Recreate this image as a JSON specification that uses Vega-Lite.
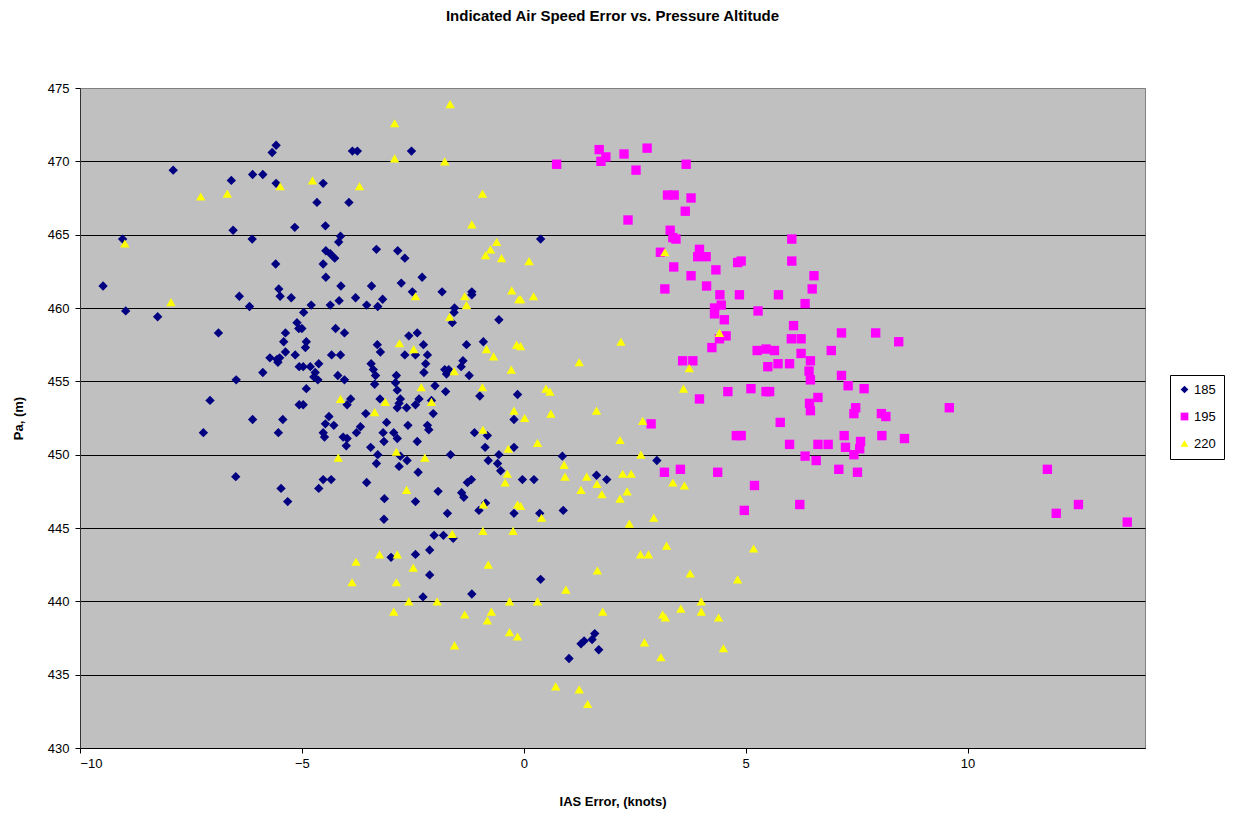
{
  "$schema": "https://vega.github.io/schema/vega-lite/v6.json",
  "width": 1065,
  "height": 660,
  "autosize": "none",
  "padding": {"left": 80, "top": 88, "right": 91, "bottom": 66},
  "background": "#FFFFFF",
  "title": {
    "text": "Indicated Air Speed Error vs. Pressure Altitude",
    "anchor": "middle",
    "frame": "group",
    "offset": 58,
    "font": "Liberation Sans",
    "fontSize": 15,
    "fontWeight": "bold",
    "color": "#000000"
  },
  "config": {
    "font": "Liberation Sans",
    "view": {"fill": "#C0C0C0", "stroke": "#808080", "strokeWidth": 1}
  },
  "data": {
    "values": [
      {"s":"185","x":-5.58,"y":471.1},{"s":"185","x":-5.67,"y":470.6},{"s":"185","x":-7.9,"y":469.4},{"s":"185","x":-6.59,"y":468.7},
      {"s":"185","x":-6.11,"y":469.1},{"s":"185","x":-5.88,"y":469.1},{"s":"185","x":-5.58,"y":468.5},{"s":"185","x":-6.55,"y":465.3},
      {"s":"185","x":-5.16,"y":465.5},{"s":"185","x":-9.04,"y":464.7},{"s":"185","x":-6.12,"y":464.7},{"s":"185","x":-5.59,"y":463.0},
      {"s":"185","x":-9.48,"y":461.5},{"s":"185","x":-6.41,"y":460.8},{"s":"185","x":-5.52,"y":461.3},{"s":"185","x":-5.49,"y":460.8},
      {"s":"185","x":-5.24,"y":460.7},{"s":"185","x":-8.97,"y":459.8},{"s":"185","x":-6.18,"y":460.1},{"s":"185","x":-8.25,"y":459.4},
      {"s":"185","x":-6.88,"y":458.3},{"s":"185","x":-5.11,"y":459.0},{"s":"185","x":-5.07,"y":458.6},{"s":"185","x":-5.37,"y":458.3},
      {"s":"185","x":-5.41,"y":457.7},{"s":"185","x":-5.37,"y":457.0},{"s":"185","x":-5.15,"y":456.8},{"s":"185","x":-5.72,"y":456.6},
      {"s":"185","x":-5.56,"y":456.5},{"s":"185","x":-5.5,"y":456.6},{"s":"185","x":-5.54,"y":456.3},{"s":"185","x":-5.88,"y":455.6},
      {"s":"185","x":-6.48,"y":455.1},{"s":"185","x":-5.06,"y":456.0},{"s":"185","x":-7.07,"y":453.7},{"s":"185","x":-6.11,"y":452.4},
      {"s":"185","x":-5.43,"y":452.4},{"s":"185","x":-7.22,"y":451.5},{"s":"185","x":-5.53,"y":451.5},{"s":"185","x":-5.06,"y":453.4},
      {"s":"185","x":-6.49,"y":448.5},{"s":"185","x":-5.47,"y":447.7},{"s":"185","x":-5.32,"y":446.8},
      {"s":"185","x":-3.86,"y":470.7},{"s":"185","x":-3.75,"y":470.7},{"s":"185","x":-2.53,"y":470.7},{"s":"185","x":-4.52,"y":468.5},
      {"s":"185","x":-4.66,"y":467.2},{"s":"185","x":-3.94,"y":467.2},{"s":"185","x":-4.47,"y":465.6},{"s":"185","x":-4.13,"y":464.9},
      {"s":"185","x":-4.17,"y":464.5},{"s":"185","x":-4.46,"y":463.9},{"s":"185","x":-4.36,"y":463.7},{"s":"185","x":-4.26,"y":463.4},
      {"s":"185","x":-4.52,"y":463.0},{"s":"185","x":-3.32,"y":464.0},{"s":"185","x":-2.84,"y":463.9},{"s":"185","x":-2.68,"y":463.4},
      {"s":"185","x":-2.29,"y":462.1},{"s":"185","x":-4.46,"y":462.1},{"s":"185","x":-4.12,"y":461.5},{"s":"185","x":-3.43,"y":461.5},
      {"s":"185","x":-2.76,"y":461.7},{"s":"185","x":-2.51,"y":461.1},{"s":"185","x":-1.84,"y":461.1},{"s":"185","x":-1.17,"y":461.1},
      {"s":"185","x":-1.17,"y":460.9},{"s":"185","x":-4.79,"y":460.2},{"s":"185","x":-4.36,"y":460.2},{"s":"185","x":-4.16,"y":460.5},
      {"s":"185","x":-3.79,"y":460.7},{"s":"185","x":-3.54,"y":460.2},{"s":"185","x":-3.29,"y":460.1},{"s":"185","x":-3.18,"y":460.6},
      {"s":"185","x":-1.56,"y":460.0},
      {"s":"185","x":-4.96,"y":459.7},{"s":"185","x":-5.0,"y":458.6},{"s":"185","x":-4.9,"y":457.7},{"s":"185","x":-4.92,"y":457.3},
      {"s":"185","x":-4.97,"y":456.0},{"s":"185","x":-4.81,"y":456.0},{"s":"185","x":-4.62,"y":456.2},{"s":"185","x":-4.7,"y":455.6},
      {"s":"185","x":-4.73,"y":455.3},{"s":"185","x":-4.64,"y":455.1},{"s":"185","x":-4.24,"y":458.6},{"s":"185","x":-4.04,"y":458.3},
      {"s":"185","x":-4.33,"y":456.8},{"s":"185","x":-4.13,"y":456.8},{"s":"185","x":-4.19,"y":455.4},{"s":"185","x":-4.04,"y":455.1},
      {"s":"185","x":-4.9,"y":454.5},{"s":"185","x":-4.97,"y":453.4},{"s":"185","x":-3.9,"y":453.8},{"s":"185","x":-3.98,"y":453.4},
      {"s":"185","x":-4.39,"y":452.6},{"s":"185","x":-4.47,"y":452.1},{"s":"185","x":-4.28,"y":452.0},{"s":"185","x":-4.52,"y":451.5},
      {"s":"185","x":-4.49,"y":451.2},{"s":"185","x":-4.07,"y":451.2},{"s":"185","x":-3.98,"y":451.1},{"s":"185","x":-4.0,"y":450.6},
      {"s":"185","x":-3.77,"y":451.5},{"s":"185","x":-3.68,"y":451.9},{"s":"185","x":-3.56,"y":452.8},{"s":"185","x":-3.45,"y":450.5},
      {"s":"185","x":-3.29,"y":450.0},{"s":"185","x":-3.32,"y":449.4},{"s":"185","x":-4.52,"y":448.3},{"s":"185","x":-4.34,"y":448.3},
      {"s":"185","x":-4.62,"y":447.7},{"s":"185","x":-3.54,"y":448.1},{"s":"185","x":-3.3,"y":457.5},{"s":"185","x":-3.23,"y":457.0},
      {"s":"185","x":-3.44,"y":456.2},{"s":"185","x":-3.39,"y":455.8},{"s":"185","x":-3.34,"y":455.4},{"s":"185","x":-3.24,"y":453.8},
      {"s":"185","x":-3.36,"y":454.8},{"s":"185","x":-3.09,"y":452.2},{"s":"185","x":-3.17,"y":451.5},{"s":"185","x":-3.15,"y":450.9},
      {"s":"185","x":-2.93,"y":451.5},{"s":"185","x":-2.85,"y":451.1},{"s":"185","x":-2.87,"y":455.4},{"s":"185","x":-2.89,"y":454.9},
      {"s":"185","x":-2.85,"y":454.4},{"s":"185","x":-2.78,"y":453.8},{"s":"185","x":-2.85,"y":453.2},{"s":"185","x":-2.64,"y":453.2},
      {"s":"185","x":-2.81,"y":453.5},{"s":"185","x":-2.59,"y":458.1},{"s":"185","x":-2.4,"y":458.3},{"s":"185","x":-2.68,"y":456.8},
      {"s":"185","x":-2.44,"y":456.8},{"s":"185","x":-2.26,"y":457.5},{"s":"185","x":-2.17,"y":456.8},{"s":"185","x":-2.21,"y":456.2},
      {"s":"185","x":-2.25,"y":455.6},{"s":"185","x":-2.0,"y":454.7},{"s":"185","x":-2.36,"y":453.8},{"s":"185","x":-2.44,"y":453.4},
      {"s":"185","x":-2.08,"y":453.7},{"s":"185","x":-2.61,"y":452.0},{"s":"185","x":-2.04,"y":452.8},{"s":"185","x":-2.17,"y":452.0},
      {"s":"185","x":-2.14,"y":451.7},{"s":"185","x":-2.4,"y":450.9},{"s":"185","x":-2.78,"y":449.9},{"s":"185","x":-2.63,"y":449.6},
      {"s":"185","x":-2.81,"y":449.2},{"s":"185","x":-2.38,"y":448.8},{"s":"185","x":-3.14,"y":447.0},{"s":"185","x":-3.15,"y":445.6},
      {"s":"185","x":-2.44,"y":446.8},{"s":"185","x":-1.93,"y":447.5},{"s":"185","x":-1.72,"y":446.0},{"s":"185","x":-1.65,"y":450.0},
      {"s":"185","x":-1.76,"y":454.3},{"s":"185","x":-1.78,"y":455.8},{"s":"185","x":-1.74,"y":455.5},{"s":"185","x":-1.69,"y":455.8},
      {"s":"185","x":-1.37,"y":456.4},{"s":"185","x":-1.41,"y":456.0},{"s":"185","x":-1.23,"y":455.4},{"s":"185","x":-1.29,"y":457.5},
      {"s":"185","x":-1.57,"y":459.7},{"s":"185","x":-1.61,"y":459.0},{"s":"185","x":-0.91,"y":457.7},{"s":"185","x":-0.56,"y":459.2},
      {"s":"185","x":-0.99,"y":454.0},{"s":"185","x":-1.11,"y":451.5},{"s":"185","x":-0.82,"y":451.3},{"s":"185","x":-0.87,"y":450.5},
      {"s":"185","x":-0.8,"y":449.6},{"s":"185","x":-0.56,"y":450.0},{"s":"185","x":-0.59,"y":449.4},{"s":"185","x":-0.52,"y":448.9},
      {"s":"185","x":-0.22,"y":452.4},{"s":"185","x":-0.22,"y":450.5},{"s":"185","x":-0.14,"y":454.1},{"s":"185","x":-1.27,"y":448.1},
      {"s":"185","x":-1.18,"y":448.3},{"s":"185","x":-1.4,"y":447.4},{"s":"185","x":-1.35,"y":447.1},{"s":"185","x":-1.01,"y":446.2},
      {"s":"185","x":-0.22,"y":446.0},{"s":"185","x":-0.86,"y":446.7},
      {"s":"185","x":-2.02,"y":444.5},{"s":"185","x":-1.81,"y":444.5},{"s":"185","x":-1.59,"y":444.3},{"s":"185","x":-2.99,"y":443.0},
      {"s":"185","x":-2.44,"y":443.2},{"s":"185","x":-2.12,"y":443.5},{"s":"185","x":-2.12,"y":441.8},{"s":"185","x":-2.27,"y":440.3},
      {"s":"185","x":-1.17,"y":440.5},
      {"s":"185","x":0.87,"y":449.9},{"s":"185","x":-0.03,"y":448.3},{"s":"185","x":0.23,"y":448.3},{"s":"185","x":1.64,"y":448.6},
      {"s":"185","x":1.87,"y":448.3},{"s":"185","x":3.0,"y":449.6},{"s":"185","x":0.36,"y":446.0},{"s":"185","x":0.89,"y":446.2},
      {"s":"185","x":0.38,"y":464.7},{"s":"185","x":0.38,"y":441.5},{"s":"185","x":1.6,"y":437.8},{"s":"185","x":1.36,"y":437.3},
      {"s":"185","x":1.29,"y":437.1},{"s":"185","x":1.54,"y":437.4},{"s":"185","x":1.69,"y":436.7},{"s":"185","x":1.02,"y":436.1},

      {"s":"195","x":0.74,"y":469.8},{"s":"195","x":1.7,"y":470.8},{"s":"195","x":1.85,"y":470.3},{"s":"195","x":1.74,"y":470.0},
      {"s":"195","x":2.26,"y":470.5},{"s":"195","x":2.53,"y":469.4},{"s":"195","x":2.78,"y":470.9},{"s":"195","x":3.66,"y":469.8},
      {"s":"195","x":3.24,"y":467.7},{"s":"195","x":3.39,"y":467.7},{"s":"195","x":3.77,"y":467.5},{"s":"195","x":3.64,"y":466.6},
      {"s":"195","x":2.35,"y":466.0},{"s":"195","x":3.3,"y":465.3},{"s":"195","x":3.36,"y":464.8},{"s":"195","x":3.43,"y":464.7},
      {"s":"195","x":3.08,"y":463.8},{"s":"195","x":3.96,"y":464.0},{"s":"195","x":3.92,"y":463.5},{"s":"195","x":4.11,"y":463.5},
      {"s":"195","x":3.38,"y":462.8},{"s":"195","x":4.33,"y":462.6},{"s":"195","x":4.82,"y":463.1},{"s":"195","x":3.77,"y":462.2},
      {"s":"195","x":4.12,"y":461.5},{"s":"195","x":3.18,"y":461.3},{"s":"195","x":4.42,"y":460.9},{"s":"195","x":4.45,"y":460.2},
      {"s":"195","x":4.3,"y":460.0},{"s":"195","x":4.86,"y":460.9},
      {"s":"195","x":6.04,"y":464.7},{"s":"195","x":6.04,"y":463.2},{"s":"195","x":4.9,"y":463.2},{"s":"195","x":6.54,"y":462.2},
      {"s":"195","x":6.5,"y":461.3},{"s":"195","x":5.74,"y":460.9},{"s":"195","x":6.34,"y":460.3},{"s":"195","x":5.28,"y":459.8},
      {"s":"195","x":6.08,"y":458.8},{"s":"195","x":7.16,"y":458.3},{"s":"195","x":7.93,"y":458.3},{"s":"195","x":8.45,"y":457.7},
      {"s":"195","x":6.03,"y":457.9},{"s":"195","x":6.25,"y":457.9},{"s":"195","x":5.26,"y":457.1},{"s":"195","x":5.46,"y":457.2},
      {"s":"195","x":5.65,"y":457.1},{"s":"195","x":6.25,"y":456.9},{"s":"195","x":6.46,"y":456.4},{"s":"195","x":6.93,"y":457.1},
      {"s":"195","x":5.5,"y":456.0},{"s":"195","x":5.73,"y":456.2},{"s":"195","x":5.99,"y":456.2},{"s":"195","x":6.43,"y":455.7},
      {"s":"195","x":6.46,"y":455.1},{"s":"195","x":7.16,"y":455.4},{"s":"195","x":7.31,"y":454.7},{"s":"195","x":7.67,"y":454.5},
      {"s":"195","x":5.12,"y":454.5},{"s":"195","x":5.46,"y":454.3},{"s":"195","x":5.54,"y":454.3},{"s":"195","x":6.63,"y":453.9},
      {"s":"195","x":6.44,"y":453.5},{"s":"195","x":6.46,"y":453.0},{"s":"195","x":7.48,"y":453.2},{"s":"195","x":7.44,"y":452.8},
      {"s":"195","x":8.06,"y":452.8},{"s":"195","x":8.16,"y":452.6},{"s":"195","x":9.59,"y":453.2},{"s":"195","x":5.78,"y":452.2},
      {"s":"195","x":4.9,"y":451.3},{"s":"195","x":5.99,"y":450.7},{"s":"195","x":6.63,"y":450.7},{"s":"195","x":6.86,"y":450.7},
      {"s":"195","x":7.22,"y":451.3},{"s":"195","x":8.07,"y":451.3},{"s":"195","x":8.58,"y":451.1},{"s":"195","x":7.25,"y":450.5},
      {"s":"195","x":7.59,"y":450.9},{"s":"195","x":7.57,"y":450.4},{"s":"195","x":7.44,"y":450.0},{"s":"195","x":6.34,"y":449.9},
      {"s":"195","x":6.59,"y":449.6},{"s":"195","x":7.1,"y":449.0},{"s":"195","x":7.52,"y":448.8},{"s":"195","x":5.2,"y":447.9},
      {"s":"195","x":6.22,"y":446.6},{"s":"195","x":4.97,"y":446.2},
      {"s":"195","x":4.3,"y":459.6},{"s":"195","x":4.52,"y":459.2},{"s":"195","x":4.56,"y":458.1},{"s":"195","x":4.41,"y":457.9},
      {"s":"195","x":4.24,"y":457.3},{"s":"195","x":3.58,"y":456.4},{"s":"195","x":3.81,"y":456.4},{"s":"195","x":3.96,"y":453.8},
      {"s":"195","x":4.6,"y":454.3},{"s":"195","x":2.87,"y":452.1},{"s":"195","x":4.79,"y":451.3},{"s":"195","x":3.17,"y":448.8},
      {"s":"195","x":3.53,"y":449.0},{"s":"195","x":4.37,"y":448.8},
      {"s":"195","x":11.8,"y":449.0},{"s":"195","x":12.0,"y":446.0},{"s":"195","x":12.5,"y":446.6},{"s":"195","x":13.6,"y":445.4},

      {"s":"220","x":-7.28,"y":467.6},{"s":"220","x":-6.68,"y":467.8},{"s":"220","x":-5.49,"y":468.3},{"s":"220","x":-8.99,"y":464.4},
      {"s":"220","x":-7.95,"y":460.4},{"s":"220","x":-1.66,"y":473.9},{"s":"220","x":-2.91,"y":472.6},{"s":"220","x":-2.91,"y":470.2},
      {"s":"220","x":-1.78,"y":470.0},{"s":"220","x":-4.76,"y":468.7},{"s":"220","x":-3.7,"y":468.3},{"s":"220","x":-0.93,"y":467.8},
      {"s":"220","x":-1.17,"y":465.7},{"s":"220","x":-0.61,"y":464.5},{"s":"220","x":-0.75,"y":464.0},{"s":"220","x":-0.86,"y":463.6},
      {"s":"220","x":-0.5,"y":463.4},{"s":"220","x":-0.27,"y":461.2},{"s":"220","x":-0.11,"y":460.6},{"s":"220","x":-2.44,"y":460.8},
      {"s":"220","x":-1.33,"y":460.8},{"s":"220","x":-1.29,"y":460.2},{"s":"220","x":0.12,"y":463.2},{"s":"220","x":-0.07,"y":460.6},
      {"s":"220","x":0.22,"y":460.8},{"s":"220","x":3.18,"y":463.8},
      {"s":"220","x":-2.8,"y":457.6},{"s":"220","x":-2.48,"y":457.2},{"s":"220","x":-1.67,"y":459.4},{"s":"220","x":-1.57,"y":455.7},
      {"s":"220","x":-0.84,"y":457.2},{"s":"220","x":-0.68,"y":456.7},{"s":"220","x":-0.28,"y":455.8},{"s":"220","x":-0.16,"y":457.5},
      {"s":"220","x":-0.93,"y":454.6},{"s":"220","x":-2.31,"y":454.6},{"s":"220","x":-4.13,"y":453.8},{"s":"220","x":-3.12,"y":453.6},
      {"s":"220","x":-3.36,"y":452.9},{"s":"220","x":-2.08,"y":453.6},{"s":"220","x":-4.18,"y":449.8},{"s":"220","x":-2.87,"y":450.2},
      {"s":"220","x":-2.23,"y":449.8},{"s":"220","x":-0.92,"y":451.7},{"s":"220","x":-0.35,"y":450.4},{"s":"220","x":-0.37,"y":448.7},
      {"s":"220","x":-0.42,"y":448.1},{"s":"220","x":-2.64,"y":447.6},{"s":"220","x":-0.91,"y":446.6},{"s":"220","x":-0.14,"y":446.6},
      {"s":"220","x":-0.22,"y":453.0},
      {"s":"220","x":2.19,"y":457.7},{"s":"220","x":1.25,"y":456.3},{"s":"220","x":-0.07,"y":457.4},{"s":"220","x":4.41,"y":458.3},
      {"s":"220","x":3.73,"y":455.9},{"s":"220","x":3.6,"y":454.5},{"s":"220","x":0.5,"y":454.5},{"s":"220","x":0.59,"y":454.3},
      {"s":"220","x":0.02,"y":452.5},{"s":"220","x":0.61,"y":452.8},{"s":"220","x":1.64,"y":453.0},{"s":"220","x":2.68,"y":452.3},
      {"s":"220","x":0.31,"y":450.8},{"s":"220","x":2.17,"y":451.0},{"s":"220","x":2.64,"y":450.0},{"s":"220","x":0.91,"y":449.3},
      {"s":"220","x":0.93,"y":448.5},{"s":"220","x":1.42,"y":448.5},{"s":"220","x":1.65,"y":448.0},{"s":"220","x":2.23,"y":448.7},
      {"s":"220","x":2.42,"y":448.7},{"s":"220","x":1.29,"y":447.6},{"s":"220","x":1.76,"y":447.3},{"s":"220","x":2.33,"y":447.5},
      {"s":"220","x":2.17,"y":447.0},{"s":"220","x":3.36,"y":448.1},{"s":"220","x":3.62,"y":447.9},{"s":"220","x":0.4,"y":445.7},
      {"s":"220","x":2.38,"y":445.3},{"s":"220","x":2.93,"y":445.7},{"s":"220","x":-0.07,"y":446.5},
      {"s":"220","x":-3.78,"y":442.7},{"s":"220","x":-3.87,"y":441.3},{"s":"220","x":-3.25,"y":443.2},{"s":"220","x":-2.85,"y":443.2},
      {"s":"220","x":-2.49,"y":442.3},{"s":"220","x":-2.87,"y":441.3},{"s":"220","x":-2.93,"y":439.3},{"s":"220","x":-2.59,"y":440.0},
      {"s":"220","x":-1.95,"y":440.0},{"s":"220","x":-1.61,"y":444.6},{"s":"220","x":-0.92,"y":444.8},{"s":"220","x":-0.24,"y":444.8},
      {"s":"220","x":-0.8,"y":442.5},{"s":"220","x":-1.33,"y":439.1},{"s":"220","x":-0.73,"y":439.3},{"s":"220","x":-0.82,"y":438.7},
      {"s":"220","x":-0.32,"y":440.0},{"s":"220","x":-0.32,"y":437.9},{"s":"220","x":-0.14,"y":437.6},{"s":"220","x":-1.56,"y":437.0},
      {"s":"220","x":3.22,"y":443.8},{"s":"220","x":2.63,"y":443.2},{"s":"220","x":2.81,"y":443.2},{"s":"220","x":1.66,"y":442.1},
      {"s":"220","x":3.75,"y":441.9},{"s":"220","x":4.82,"y":441.5},{"s":"220","x":0.95,"y":440.8},{"s":"220","x":0.31,"y":440.0},
      {"s":"220","x":1.78,"y":439.3},{"s":"220","x":3.13,"y":439.1},{"s":"220","x":3.19,"y":438.9},{"s":"220","x":3.54,"y":439.5},
      {"s":"220","x":4.0,"y":440.0},{"s":"220","x":4.0,"y":439.3},{"s":"220","x":4.39,"y":438.9},{"s":"220","x":2.72,"y":437.2},
      {"s":"220","x":3.09,"y":436.2},{"s":"220","x":4.5,"y":436.8},{"s":"220","x":0.72,"y":434.2},{"s":"220","x":1.25,"y":434.0},
      {"s":"220","x":1.44,"y":433.0},{"s":"220","x":5.18,"y":443.6}
    ]
  },
  "mark": {"type": "point", "filled": true, "opacity": 1, "size": 88, "strokeWidth": 0},
  "encoding": {
    "x": {
      "field": "x",
      "type": "quantitative",
      "scale": {"domain": [-10, 14], "nice": false, "zero": false},
      "axis": {
        "values": [-10, -5, 0, 5, 10],
        "title": "IAS Error, (knots)",
        "grid": false,
        "domainColor": "#000000",
        "tickColor": "#000000",
        "tickSize": 5,
        "labelFontSize": 13,
        "labelColor": "#000000",
        "labelPadding": 4,
        "titleFontSize": 13,
        "titleFontWeight": "bold",
        "titleColor": "#000000",
        "titlePadding": 25
      }
    },
    "y": {
      "field": "y",
      "type": "quantitative",
      "scale": {"domain": [430, 475], "nice": false, "zero": false},
      "axis": {
        "values": [430, 435, 440, 445, 450, 455, 460, 465, 470, 475],
        "title": "Pa, (m)",
        "grid": true,
        "gridColor": {"condition": {"test": "datum.value == 475", "value": "#808080"}, "value": "#000000"},
        "gridOpacity": 1,
        "gridWidth": 1,
        "domainColor": "#333333",
        "tickColor": "#000000",
        "tickSize": 5,
        "labelFontSize": 13,
        "labelColor": "#000000",
        "labelPadding": 6,
        "titleFontSize": 13,
        "titleFontWeight": "bold",
        "titleColor": "#000000",
        "titlePadding": 22
      }
    },
    "color": {
      "field": "s",
      "type": "nominal",
      "scale": {"domain": ["185", "195", "220"], "range": ["#000080", "#FF00FF", "#FFFF00"]},
      "legend": {
        "title": null,
        "orient": "none",
        "legendX": 1090,
        "legendY": 287,
        "padding": 8,
        "fillColor": "#FFFFFF",
        "strokeColor": "#000000",
        "labelFontSize": 13,
        "labelColor": "#000000",
        "symbolSize": 60,
        "symbolStrokeWidth": 0,
        "rowPadding": 13,
        "labelOffset": 3
      }
    },
    "shape": {
      "field": "s",
      "type": "nominal",
      "scale": {"domain": ["185", "195", "220"], "range": ["diamond", "square", "triangle-up"]}
    }
  }
}
